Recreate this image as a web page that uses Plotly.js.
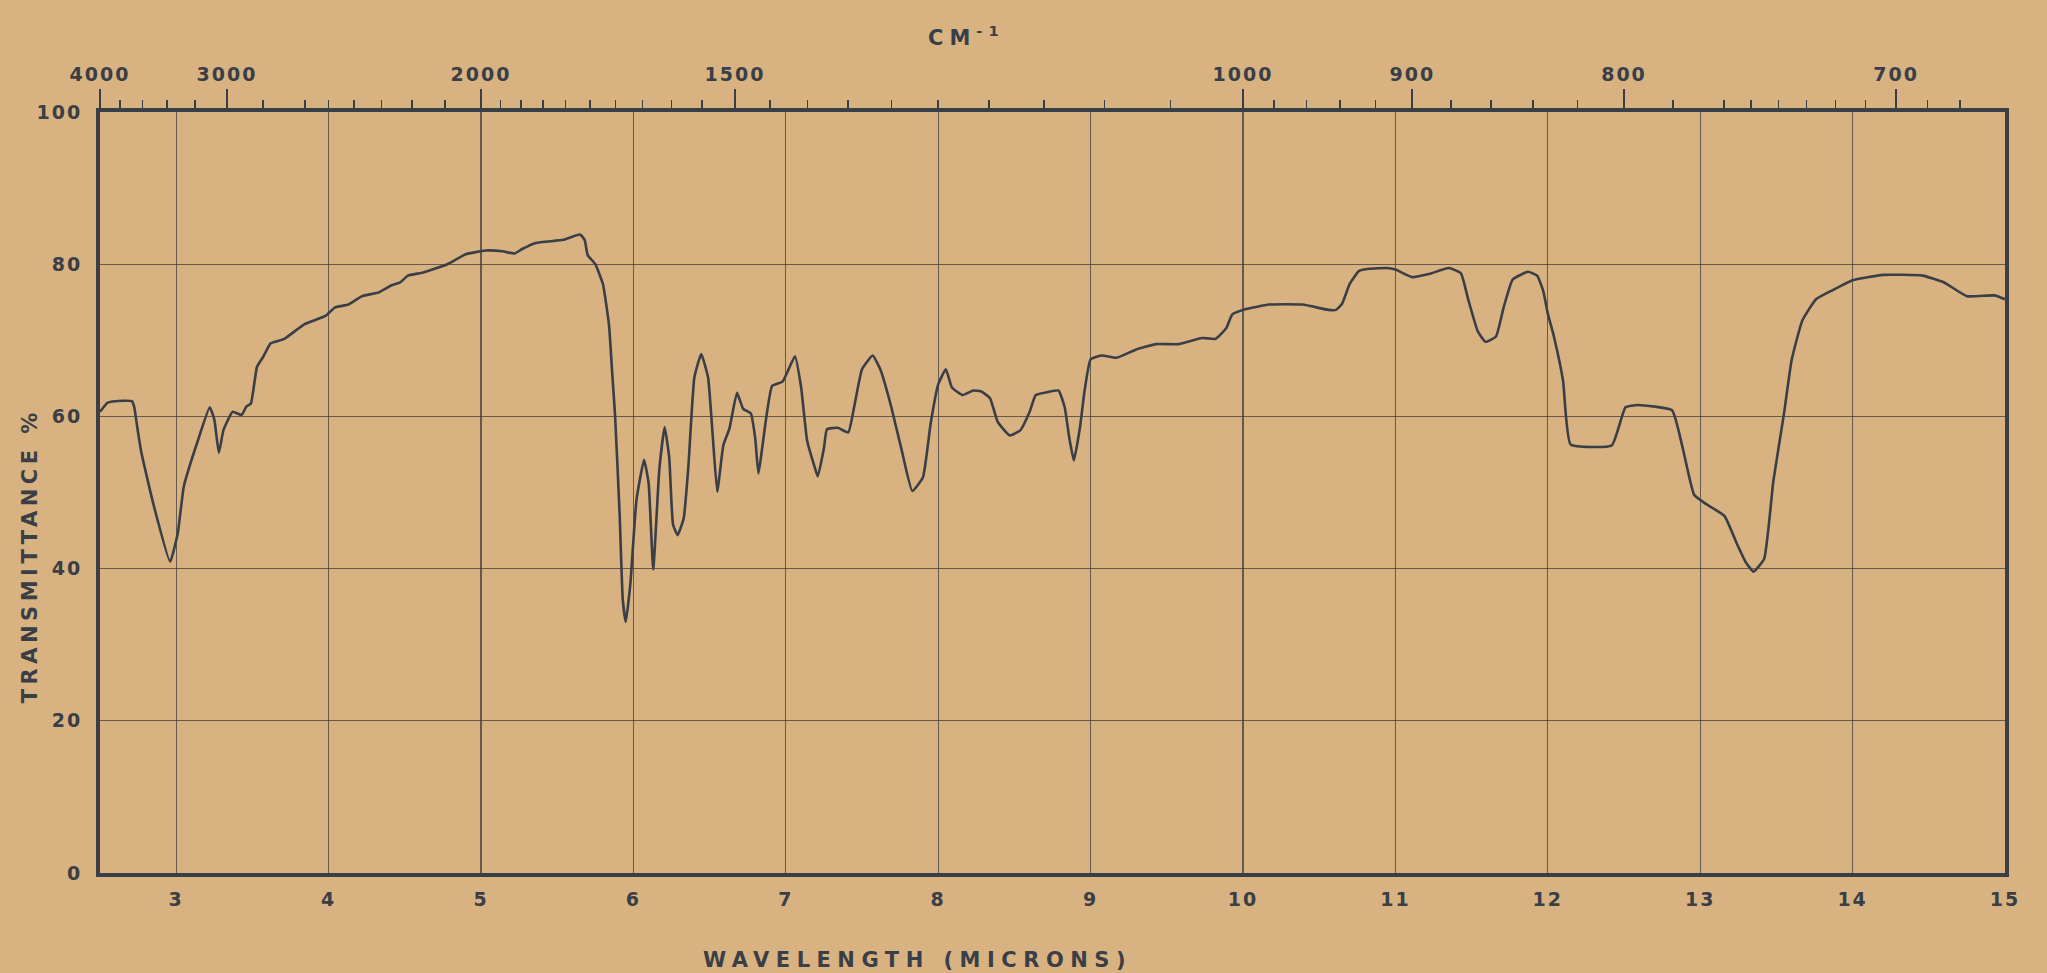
<!DOCTYPE html>
<html><head><meta charset="utf-8">
<script src="https://cdn.plot.ly/plotly-3.0.1.min.js"></script>
<style>
html,body{margin:0;padding:0;background:#d8b381;}
#chart{width:2047px;height:973px;}
.xtick text,.ytick text,.x2tick text{letter-spacing:2px;}
.annotation[data-index="0"] text{letter-spacing:6.5px;}
.annotation[data-index="1"] text{letter-spacing:4.5px;}
.annotation[data-index="2"] text{letter-spacing:6px;}
</style></head>
<body><div id="chart"></div>
<script>
// Spectrum values (wavelength in microns, transmittance in %)
const wavelength = [
  2.50, 2.55, 2.60, 2.71, 2.725, 2.745, 2.77, 2.85, 2.96, 3.01, 3.05, 3.145, 3.22, 3.25, 3.28, 3.31,
  3.37, 3.43, 3.46, 3.49, 3.53, 3.57, 3.62, 3.71, 3.84, 3.98, 4.04, 4.13, 4.22, 4.33, 4.41, 4.47,
  4.52, 4.62, 4.78, 4.90, 5.03, 5.14, 5.22, 5.27, 5.36, 5.54, 5.65, 5.68, 5.70, 5.75, 5.80, 5.84,
  5.86, 5.88, 5.91, 5.93, 5.95, 5.98, 6.02, 6.07, 6.10, 6.13, 6.17, 6.205, 6.235, 6.26, 6.29, 6.33,
  6.36, 6.40, 6.445, 6.49, 6.52, 6.55, 6.59, 6.63, 6.68, 6.72, 6.77, 6.80, 6.82, 6.87, 6.91, 6.98,
  7.06, 7.10, 7.14, 7.19, 7.21, 7.25, 7.27, 7.34, 7.41, 7.45, 7.50, 7.57, 7.62, 7.69, 7.76, 7.83,
  7.90, 7.95, 8.00, 8.05, 8.09, 8.16, 8.23, 8.28, 8.34, 8.39, 8.47, 8.54, 8.60, 8.64, 8.72, 8.79,
  8.83, 8.86, 8.89, 8.93, 8.96, 9.00, 9.07, 9.17, 9.30, 9.43, 9.58, 9.73, 9.82, 9.89, 9.93, 10.02,
  10.17, 10.39, 10.56, 10.61, 10.65, 10.70, 10.76, 10.83, 10.94, 11.00, 11.11, 11.22, 11.35, 11.43, 11.48, 11.54,
  11.59, 11.66, 11.71, 11.77, 11.87, 11.93, 11.97, 12.00, 12.04, 12.10, 12.15, 12.42, 12.51, 12.59, 12.815, 12.88,
  12.96, 13.03, 13.16, 13.24, 13.30, 13.35, 13.42, 13.48, 13.55, 13.60, 13.67, 13.76, 13.87, 14.00, 14.20, 14.46,
  14.60, 14.75, 14.93, 15.00
];
const transmittance = [
  60.6, 61.8, 62.0, 62.0, 61.2, 58.5, 55.4, 48.5, 40.9, 44.6, 50.8, 57.0, 61.2, 59.6, 55.2, 58.2,
  60.6, 60.2, 61.3, 61.7, 66.5, 67.8, 69.6, 70.2, 72.1, 73.2, 74.3, 74.7, 75.8, 76.3, 77.2, 77.6,
  78.5, 78.9, 80.0, 81.3, 81.8, 81.7, 81.4, 82.0, 82.8, 83.2, 83.9, 83.2, 81.2, 80.0, 77.4, 72.0,
  66.0, 60.0, 47.0, 36.0, 33.0, 38.0, 49.0, 54.3, 51.2, 39.9, 53.0, 58.6, 54.6, 45.8, 44.4, 46.6,
  53.2, 65.1, 68.2, 65.1, 57.6, 50.1, 56.2, 58.4, 63.1, 61.0, 60.4, 57.0, 52.5, 59.6, 64.0, 64.6,
  67.9, 63.9, 56.8, 53.3, 52.1, 55.8, 58.3, 58.5, 57.9, 61.4, 66.2, 68.0, 66.2, 61.4, 55.6, 50.2,
  52.0, 59.0, 64.2, 66.2, 63.8, 62.8, 63.4, 63.3, 62.4, 59.3, 57.5, 58.2, 60.6, 62.8, 63.2, 63.4,
  61.2, 57.2, 54.2, 58.5, 63.3, 67.5, 68.0, 67.7, 68.8, 69.5, 69.5, 70.3, 70.2, 71.6, 73.4, 74.1,
  74.7, 74.7, 74.0, 74.0, 74.8, 77.4, 79.1, 79.4, 79.5, 79.3, 78.3, 78.7, 79.5, 78.8, 75.2, 71.2,
  69.8, 70.5, 74.3, 78.0, 79.0, 78.5, 76.5, 73.5, 70.5, 64.7, 56.3, 56.2, 61.2, 61.5, 60.8, 56.3,
  49.7, 48.6, 46.9, 43.3, 40.8, 39.6, 41.3, 51.5, 60.4, 67.4, 72.6, 75.4, 76.6, 77.9, 78.6, 78.5,
  77.6, 75.8, 75.9, 75.4
];

const micronTicks = [3, 4, 5, 6, 7, 8, 9, 10, 11, 12, 13, 14, 15];
const micronLabels = ['3', '4', '5', '6', '7', '8', '9', '10', '11', '12', '13', '14', '15'];
const transmittanceTicks = [0, 20, 40, 60, 80, 100];
const transmittanceLabels = ['0', '20', '40', '60', '80', '100'];
const wavenumberMajor = [4000, 3000, 2000, 1500, 1000, 900, 800, 700];
const wavenumberLabels = ['4000', '3000', '2000', '1500', '1000', '900', '800', '700'];
const wavenumberMinor = [3800, 3600, 3400, 3200, 2800, 2600, 2500, 2400, 2300, 2200, 2100,
  1950, 1900, 1850, 1800, 1750, 1700, 1650, 1600, 1550,
  1450, 1400, 1350, 1300, 1250, 1200, 1150, 1100, 1050,
  980, 960, 940, 920, 880, 860, 840, 820,
  780, 760, 750, 740, 730, 720, 710, 690, 680];

const ink = '#3a3e47';
const gridInk = 'rgba(58,56,60,0.72)';
const paper = '#d8b381';
const fontFam = '"DejaVu Sans", "Liberation Sans", sans-serif';

const toMicrons = wn => 10000 / wn;

const traces = [
  {
    x: wavelength, y: transmittance, type: 'scatter', mode: 'lines',
    line: {color: ink, width: 2.6, shape: 'spline', smoothing: 0.4},
    xaxis: 'x', yaxis: 'y', showlegend: false, hoverinfo: 'x+y'
  },
  {
    x: wavelength, y: transmittance, type: 'scatter', mode: 'lines',
    line: {color: 'rgba(0,0,0,0)', width: 0},
    xaxis: 'x2', yaxis: 'y', showlegend: false, hoverinfo: 'skip'
  }
];

const layout = {
  width: 2047, height: 973,
  paper_bgcolor: paper, plot_bgcolor: paper,
  margin: {l: 100, r: 42, t: 112, b: 100},
  showlegend: false,
  font: {family: fontFam, color: ink, size: 19, weight: 'bold'},
  xaxis: {
    range: [2.5, 15], tickmode: 'array', tickvals: micronTicks, ticktext: micronLabels,
    ticks: '', ticklabelstandoff: 6,
    tickfont: {family: fontFam, size: 19, color: ink, weight: 'bold'},
    showgrid: true, gridcolor: gridInk, gridwidth: 1.2,
    showline: true, linecolor: ink, linewidth: 4, mirror: true, zeroline: false
  },
  xaxis2: {
    overlaying: 'x', side: 'top', anchor: 'y', matches: 'x',
    range: [2.5, 15], tickmode: 'array',
    tickvals: wavenumberMajor.map(toMicrons), ticktext: wavenumberLabels,
    ticks: 'outside', ticklen: 22, tickwidth: 2, tickcolor: ink,
    tickfont: {family: fontFam, size: 19, color: ink, weight: 'bold'},
    minor: {tickmode: 'array', tickvals: wavenumberMinor.map(toMicrons), ticks: 'outside',
            ticklen: 11, tickwidth: 1.6, tickcolor: ink, showgrid: false},
    showgrid: false, showline: false, zeroline: false
  },
  yaxis: {
    range: [0, 100], tickmode: 'array', tickvals: transmittanceTicks, ticktext: transmittanceLabels,
    ticks: '', ticklabelstandoff: 10,
    tickfont: {family: fontFam, size: 19, color: ink, weight: 'bold'},
    showgrid: true, gridcolor: gridInk, gridwidth: 1.2,
    showline: true, linecolor: ink, linewidth: 4, mirror: true, zeroline: false
  },
  annotations: [
    {text: 'WAVELENGTH (MICRONS)', xref: 'paper', yref: 'paper', x: 0.429, y: -0.114,
     xanchor: 'center', yanchor: 'middle', showarrow: false,
     font: {family: fontFam, size: 21, color: ink, weight: 'bold'}},
    {text: 'TRANSMITTANCE %', xref: 'paper', yref: 'paper', x: -0.037, y: 0.4166,
     xanchor: 'center', yanchor: 'middle', showarrow: false, textangle: -90,
     font: {family: fontFam, size: 21, color: ink, weight: 'bold'}},
    {text: 'CM<sup>-1</sup>', xref: 'paper', yref: 'paper', x: 0.455, y: 1.10,
     xanchor: 'center', yanchor: 'middle', showarrow: false,
     font: {family: fontFam, size: 21, color: ink, weight: 'bold'}}
  ]
};

Plotly.newPlot('chart', traces, layout, {displayModeBar: false, staticPlot: true});
</script>
</body></html>
